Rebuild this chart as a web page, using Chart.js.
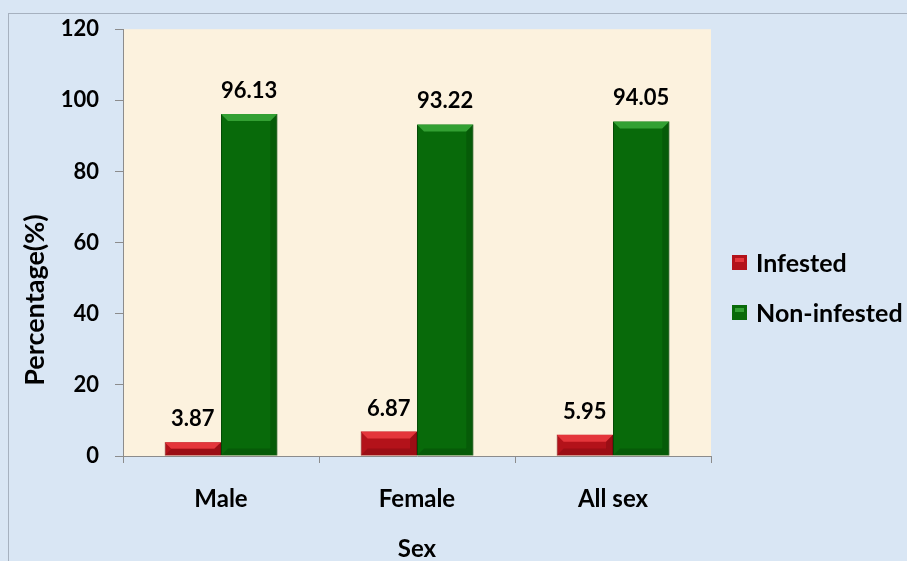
<!DOCTYPE html>
<html>
<head>
<meta charset="utf-8">
<title>Infestation by sex</title>
<script src="https://cdn.jsdelivr.net/npm/chart.js@4.4.1/dist/chart.umd.min.js"></script>
<style>
  html, body { margin: 0; padding: 0; background: #d9e6f4; }
  #wrap { width: 907px; height: 561px; }
</style>
</head>
<body>
<div id="wrap"><canvas id="sexChart" width="907" height="561"></canvas></div>
<script>
// data
const categories = ['Male', 'Female', 'All sex'];
const infested = [3.87, 6.87, 5.95];
const nonInfested = [96.13, 93.22, 94.05];
const yTicks = [0, 20, 40, 60, 80, 100, 120];

const FONT = 'Lato, "Open Sans", sans-serif';
const RED = '#b3121a', RED_LIGHT = '#e4363b', RED_DARK = '#7e0b10';
const GREEN = '#086a0a', GREEN_LIGHT = '#33a033', GREEN_DARK = '#044a06';

// page + plot backgrounds and the outer frame
const backdrop = {
    id: 'backdrop',
    beforeDraw(chart) {
        const ctx = chart.ctx;
        const a = chart.chartArea;
        ctx.save();
        ctx.fillStyle = '#d9e6f4';
        ctx.fillRect(0, 0, chart.width, chart.height);
        ctx.strokeStyle = '#a6b1bf';
        ctx.lineWidth = 1;
        ctx.strokeRect(8.5, 13.5, chart.width + 10, chart.height + 10);
        ctx.fillStyle = '#fcf2de';
        ctx.fillRect(a.left, a.top, a.right - a.left, a.bottom - a.top);
        ctx.restore();
    }
};

// bevel highlight on top of each bar, then the value label
const barDecor = {
    id: 'barDecor',
    afterDatasetsDraw(chart) {
        const ctx = chart.ctx;
        ctx.save();
        chart.data.datasets.forEach((ds, i) => {
            const light = i === 0 ? RED_LIGHT : GREEN_LIGHT;
            const dark = i === 0 ? RED_DARK : GREEN_DARK;
            chart.getDatasetMeta(i).data.forEach((bar) => {
                const l = bar.x - bar.width / 2, r = bar.x + bar.width / 2;
                const t = bar.y, b = bar.base;
                const d = Math.min(7, (b - t) / 2);
                // top bevel
                ctx.fillStyle = light;
                ctx.beginPath();
                ctx.moveTo(l, t); ctx.lineTo(r, t);
                ctx.lineTo(r - d, t + d); ctx.lineTo(l + d, t + d);
                ctx.closePath(); ctx.fill();
                // side / bottom shading
                ctx.fillStyle = dark;
                ctx.globalAlpha = 0.45;
                ctx.beginPath();
                ctx.moveTo(r, t); ctx.lineTo(r, b); ctx.lineTo(r - d, b - d); ctx.lineTo(r - d, t + d);
                ctx.closePath(); ctx.fill();
                ctx.beginPath();
                ctx.moveTo(l, b); ctx.lineTo(r, b); ctx.lineTo(r - d, b - d); ctx.lineTo(l + d, b - d);
                ctx.closePath(); ctx.fill();
                ctx.globalAlpha = 1;
            });
        });
        ctx.font = 'bold 22px ' + FONT;
        ctx.fillStyle = '#000';
        ctx.textAlign = 'center';
        ctx.textBaseline = 'alphabetic';
        chart.data.datasets.forEach((ds, i) => {
            chart.getDatasetMeta(i).data.forEach((bar, j) => {
                ctx.fillText(ds.data[j].toFixed(2), bar.x, bar.y - 16);
            });
        });
        ctx.restore();
    }
};

// y title and legend, placed like the original
const sideText = {
    id: 'sideText',
    afterDraw(chart) {
        const ctx = chart.ctx;
        ctx.save();
        ctx.fillStyle = '#000';
        ctx.textBaseline = 'middle';
        // y axis title
        ctx.save();
        ctx.font = 'bold 27px ' + FONT;
        ctx.translate(35, 300);
        ctx.rotate(-Math.PI / 2);
        ctx.textAlign = 'center';
        ctx.fillText('Percentage(%)', 0, 0);
        ctx.restore();
        // legend
        ctx.font = 'bold 25px ' + FONT;
        ctx.textAlign = 'left';
        chart.data.datasets.forEach((ds, i) => {
            const y = 263 + i * 50;
            ctx.fillStyle = i === 0 ? RED : GREEN;
            ctx.fillRect(732, y - 8, 15, 15);
            ctx.fillStyle = i === 0 ? RED_LIGHT : GREEN_LIGHT;
            ctx.fillRect(735, y - 5, 9, 4);
            ctx.fillStyle = '#000';
            ctx.fillText(ds.label, 756, y + 1);
        });
        ctx.restore();
    }
};

new Chart(document.getElementById('sexChart'), {
    type: 'bar',
    data: {
        labels: categories,
        datasets: [
            { label: 'Infested', data: infested, backgroundColor: RED, borderColor: RED_DARK, borderWidth: 1 },
            { label: 'Non-infested', data: nonInfested, backgroundColor: GREEN, borderColor: GREEN_DARK, borderWidth: 1 }
        ]
    },
    options: {
        responsive: false,
        animation: false,
        layout: { padding: { top: 20, right: 196, bottom: 0, left: 0 } },
        datasets: {
            bar: { categoryPercentage: 0.575, barPercentage: 1 }
        },
        plugins: {
            legend: { display: false },
            tooltip: { enabled: false }
        },
        scales: {
            x: {
                afterFit: s => { s.height = 105; },
                grid: { drawOnChartArea: false, color: '#8c8c8c', tickLength: 7, offset: true },
                border: { color: '#8c8c8c' },
                ticks: { font: { family: FONT, size: 24, weight: 'bold' }, color: '#000', padding: 22 },
                title: {
                    display: true, text: 'Sex', color: '#000',
                    font: { family: FONT, size: 24, weight: 'bold', lineHeight: 1 },
                    padding: { top: 0, bottom: 0 }
                }
            },
            y: {
                min: 0,
                max: 120,
                afterFit: s => { s.width = 123; },
                afterBuildTicks: s => { s.ticks = yTicks.map(v => ({ value: v })); },
                grid: { drawOnChartArea: false, color: '#8c8c8c', tickLength: 8 },
                border: { color: '#8c8c8c' },
                ticks: { font: { family: FONT, size: 22, weight: 'bold' }, color: '#000', padding: 16 }
            }
        }
    },
    plugins: [backdrop, barDecor, sideText]
});
</script>
</body>
</html>
